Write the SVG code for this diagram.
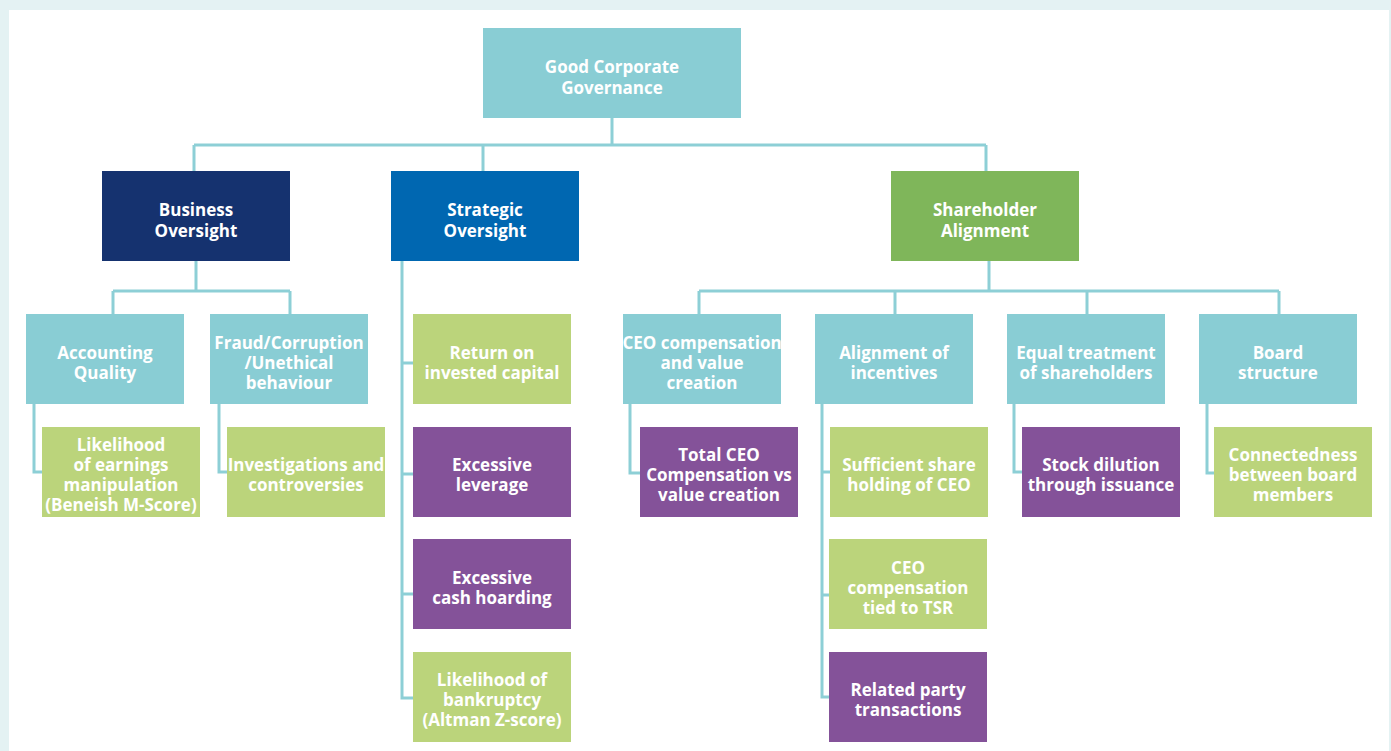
<svg xmlns="http://www.w3.org/2000/svg" width="1391" height="751" viewBox="0 0 1391 751">
  <style>
    .conn { fill: none; stroke: #8dcfd6; stroke-width: 3; }
    .teal { fill: #89cdd4; }
    .navy { fill: #15326f; }
    .blue { fill: #0067b1; }
    .green { fill: #7fb65a; }
    .lime { fill: #bbd47b; }
    .purple { fill: #845299; }
    text { font-family: "Open Sans", "Noto Sans", "Liberation Sans", sans-serif; font-weight: 700; font-size: 17px; fill: #ffffff; text-anchor: middle; }
  </style>

  <!-- page frame -->
  <rect x="0" y="0" width="1391" height="751" fill="#e4f2f3"/>
  <rect x="9" y="10" width="1380" height="741" fill="#ffffff"/>

  <!-- connectors -->
  <g id="connectors" class="conn">
    <!-- root to level 1 -->
    <path d="M612 118 V145 M194 145 H986 M194 145 V171 M483 145 V171 M986 145 V171"/>
    <!-- Business Oversight -->
    <path d="M196 261 V291 M113 291 H290 M113 291 V314 M290 291 V314"/>
    <path d="M34 404 V472 H42"/>
    <path d="M219 404 V472 H227"/>
    <!-- Strategic Oversight -->
    <path d="M402 261 V698 H413 M402 363 H413 M402 474 H413 M402 594 H413"/>
    <!-- Shareholder Alignment -->
    <path d="M989 261 V291 M699 291 H1279 M699 291 V314 M895 291 V314 M1087 291 V314 M1279 291 V314"/>
    <path d="M630 404 V473 H640"/>
    <path d="M822 404 V697 H829 M822 472 H830 M822 595 H829"/>
    <path d="M1014 404 V472 H1022"/>
    <path d="M1207 404 V473 H1214"/>
  </g>

  <!-- root -->
  <g id="good-corporate-governance">
    <rect class="teal" x="483" y="28" width="258" height="90"/>
    <text x="612" y="73">Good Corporate</text>
    <text x="612" y="94">Governance</text>
  </g>

  <!-- level 1 -->
  <g id="business-oversight">
    <rect class="navy" x="102" y="171" width="188" height="90"/>
    <text x="196" y="216">Business</text>
    <text x="196" y="237">Oversight</text>
  </g>
  <g id="strategic-oversight">
    <rect class="blue" x="391" y="171" width="188" height="90"/>
    <text x="485" y="216">Strategic</text>
    <text x="485" y="237">Oversight</text>
  </g>
  <g id="shareholder-alignment">
    <rect class="green" x="891" y="171" width="188" height="90"/>
    <text x="985" y="216">Shareholder</text>
    <text x="985" y="237">Alignment</text>
  </g>

  <!-- Business Oversight branch -->
  <g id="accounting-quality">
    <rect class="teal" x="26" y="314" width="158" height="90"/>
    <text x="105" y="359">Accounting</text>
    <text x="105" y="379">Quality</text>
  </g>
  <g id="fraud-corruption">
    <rect class="teal" x="210" y="314" width="158" height="90"/>
    <text x="289" y="349">Fraud/Corruption</text>
    <text x="289" y="369">/Unethical</text>
    <text x="289" y="389">behaviour</text>
  </g>
  <g id="earnings-manipulation">
    <rect class="lime" x="42" y="427" width="158" height="90"/>
    <text x="121" y="451">Likelihood</text>
    <text x="121" y="471">of earnings</text>
    <text x="121" y="491">manipulation</text>
    <text x="121" y="511">(Beneish M-Score)</text>
  </g>
  <g id="investigations">
    <rect class="lime" x="227" y="427" width="158" height="90"/>
    <text x="306" y="471">Investigations and</text>
    <text x="306" y="491">controversies</text>
  </g>

  <!-- Strategic Oversight branch -->
  <g id="roic">
    <rect class="lime" x="413" y="314" width="158" height="90"/>
    <text x="492" y="359">Return on</text>
    <text x="492" y="379">invested capital</text>
  </g>
  <g id="excessive-leverage">
    <rect class="purple" x="413" y="427" width="158" height="90"/>
    <text x="492" y="471">Excessive</text>
    <text x="492" y="491">leverage</text>
  </g>
  <g id="cash-hoarding">
    <rect class="purple" x="413" y="539" width="158" height="90"/>
    <text x="492" y="584">Excessive</text>
    <text x="492" y="604">cash hoarding</text>
  </g>
  <g id="bankruptcy">
    <rect class="lime" x="413" y="652" width="158" height="90"/>
    <text x="492" y="686">Likelihood of</text>
    <text x="492" y="706">bankruptcy</text>
    <text x="492" y="726">(Altman Z-score)</text>
  </g>

  <!-- Shareholder Alignment branch -->
  <g id="ceo-compensation-value">
    <rect class="teal" x="623" y="314" width="158" height="90"/>
    <text x="702" y="349">CEO compensation</text>
    <text x="702" y="369">and value</text>
    <text x="702" y="389">creation</text>
  </g>
  <g id="alignment-of-incentives">
    <rect class="teal" x="815" y="314" width="158" height="90"/>
    <text x="894" y="359">Alignment of</text>
    <text x="894" y="379">incentives</text>
  </g>
  <g id="equal-treatment">
    <rect class="teal" x="1007" y="314" width="158" height="90"/>
    <text x="1086" y="359">Equal treatment</text>
    <text x="1086" y="379">of shareholders</text>
  </g>
  <g id="board-structure">
    <rect class="teal" x="1199" y="314" width="158" height="90"/>
    <text x="1278" y="359">Board</text>
    <text x="1278" y="379">structure</text>
  </g>

  <g id="total-ceo-compensation">
    <rect class="purple" x="640" y="427" width="158" height="90"/>
    <text x="719" y="461">Total CEO</text>
    <text x="719" y="481">Compensation vs</text>
    <text x="719" y="501">value creation</text>
  </g>
  <g id="ceo-shareholding">
    <rect class="lime" x="830" y="427" width="158" height="90"/>
    <text x="909" y="471">Sufficient share</text>
    <text x="909" y="491">holding of CEO</text>
  </g>
  <g id="ceo-tsr">
    <rect class="lime" x="829" y="539" width="158" height="90"/>
    <text x="908" y="574">CEO</text>
    <text x="908" y="594">compensation</text>
    <text x="908" y="614">tied to TSR</text>
  </g>
  <g id="related-party">
    <rect class="purple" x="829" y="652" width="158" height="90"/>
    <text x="908" y="696">Related party</text>
    <text x="908" y="716">transactions</text>
  </g>
  <g id="stock-dilution">
    <rect class="purple" x="1022" y="427" width="158" height="90"/>
    <text x="1101" y="471">Stock dilution</text>
    <text x="1101" y="491">through issuance</text>
  </g>
  <g id="board-connectedness">
    <rect class="lime" x="1214" y="427" width="158" height="90"/>
    <text x="1293" y="461">Connectedness</text>
    <text x="1293" y="481">between board</text>
    <text x="1293" y="501">members</text>
  </g>
</svg>
